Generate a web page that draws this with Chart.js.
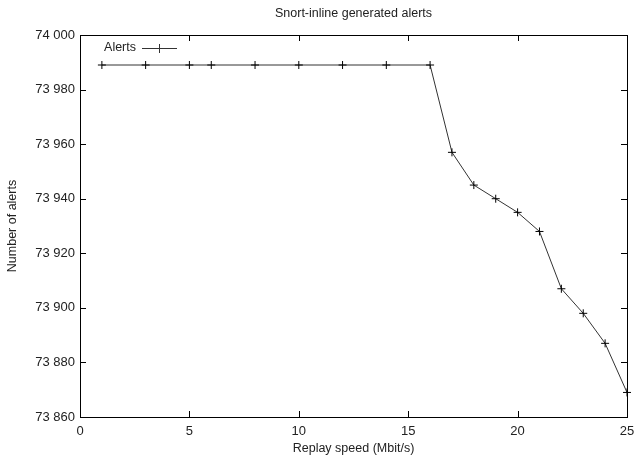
<!DOCTYPE html>
<html>
<head>
<meta charset="utf-8">
<script src="https://cdn.jsdelivr.net/npm/chart.js@4.4.0/dist/chart.umd.min.js"></script>
<style>
html, body { margin: 0; padding: 0; background: #fff; }
#wrap { width: 635px; height: 457px; position: relative; }
</style>
</head>
<body>
<div id="wrap"><canvas id="chart"></canvas></div>
<script>
// replay speed (Mbit/s) and alerts counted at that speed
const speeds = [1, 3, 5, 6, 8, 10, 12, 14, 16, 17, 18, 19, 20, 21, 22, 23, 24, 25];
const alerts = [73989, 73989, 73989, 73989, 73989, 73989, 73989, 73989, 73989,
                73957, 73945, 73940, 73935, 73928, 73907, 73898, 73887, 73869];
const xTicks = [0, 5, 10, 15, 20, 25];
const yTicks = [73860, 73880, 73900, 73920, 73940, 73960, 73980, 74000];
const chartTitle = 'Snort-inline generated alerts';
const seriesName = 'Alerts';

const FONT = '"Liberation Sans", Arial, sans-serif';
Chart.defaults.font.family = FONT;
Chart.defaults.font.size = 12;
Chart.defaults.color = '#222';

function fmt(v) {
    // thousands separated with a space, like 73 980
    return String(v).replace(/\B(?=(\d{3})+(?!\d))/g, ' ');
}

// gnuplot style frame: box round the plot, ticks pointing inwards on all sides
const frame = {
    id: 'frame',
    afterDatasetsDraw(chart) {
        const {ctx, chartArea: a, scales} = chart;
        ctx.save();
        ctx.strokeStyle = '#000';
        ctx.lineWidth = 1;
        ctx.strokeRect(Math.round(a.left) + 0.5, Math.round(a.top) + 0.5,
            Math.round(a.right - a.left), Math.round(a.bottom - a.top));
        ctx.beginPath();
        xTicks.forEach(t => {
            const x = Math.round(scales.x.getPixelForValue(t)) + 0.5;
            ctx.moveTo(x, a.bottom); ctx.lineTo(x, a.bottom - 6);
            ctx.moveTo(x, a.top); ctx.lineTo(x, a.top + 6);
        });
        yTicks.forEach(t => {
            const y = Math.round(scales.y.getPixelForValue(t)) + 0.5;
            ctx.moveTo(a.left, y); ctx.lineTo(a.left + 6, y);
            ctx.moveTo(a.right, y); ctx.lineTo(a.right - 6, y);
        });
        ctx.stroke();

        // title, centred over the plot
        ctx.fillStyle = '#222';
        ctx.font = '12.5px ' + FONT;
        ctx.textAlign = 'center';
        ctx.textBaseline = 'middle';
        ctx.fillText(chartTitle, (a.left + a.right) / 2, 14);

        // key in the top left corner: text then sample
        const ky = a.top + 13;
        ctx.textAlign = 'right';
        ctx.fillText(seriesName, a.left + 56, ky);
        ctx.strokeStyle = '#333';
        ctx.beginPath();
        ctx.moveTo(a.left + 62, ky + 0.5); ctx.lineTo(a.left + 97, ky + 0.5);
        ctx.moveTo(a.left + 79.5, ky - 4); ctx.lineTo(a.left + 79.5, ky + 5);
        ctx.stroke();
        ctx.restore();
    }
};

new Chart(document.getElementById('chart'), {
    type: 'line',
    data: {
        datasets: [{
            label: seriesName,
            data: speeds.map((s, i) => ({x: s, y: alerts[i]})),
            borderColor: '#333',
            borderWidth: 1,
            pointStyle: 'cross',
            pointRadius: 4,
            pointBorderColor: '#000',
            pointBorderWidth: 1,
            tension: 0,
            fill: false,
            clip: false
        }]
    },
    options: {
        responsive: true,
        maintainAspectRatio: false,
        animation: false,
        layout: { padding: { top: 35, right: 8, left: 0, bottom: 0 } },
        scales: {
            x: {
                type: 'linear',
                min: 0, max: 25,
                afterBuildTicks: s => { s.ticks = xTicks.map(v => ({value: v})); },
                afterFit: s => { s.height = 40; s.paddingLeft = 0; s.paddingRight = 0; },
                grid: { display: false, tickLength: 0 },
                border: { display: false },
                ticks: { padding: 7, color: '#222', maxRotation: 0, font: { size: 13 } },
                title: { display: true, text: 'Replay speed (Mbit/s)', color: '#222', font: { size: 12.5 }, padding: { top: 0, bottom: 1 } }
            },
            y: {
                min: 73860, max: 74000,
                afterBuildTicks: s => { s.ticks = yTicks.map(v => ({value: v})); },
                afterFit: s => { s.width = 80; s.paddingTop = 0; s.paddingBottom = 0; },
                grid: { display: false, tickLength: 0 },
                border: { display: false },
                ticks: { padding: 5, color: '#222', font: { size: 13 }, callback: v => fmt(v) },
                title: { display: true, text: 'Number of alerts', color: '#222', font: { size: 12.5 }, padding: { top: 5, bottom: 0 } }
            }
        },
        plugins: {
            legend: { display: false },
            title: { display: false },
            tooltip: { enabled: false }
        }
    },
    plugins: [frame]
});
</script>
</body>
</html>
